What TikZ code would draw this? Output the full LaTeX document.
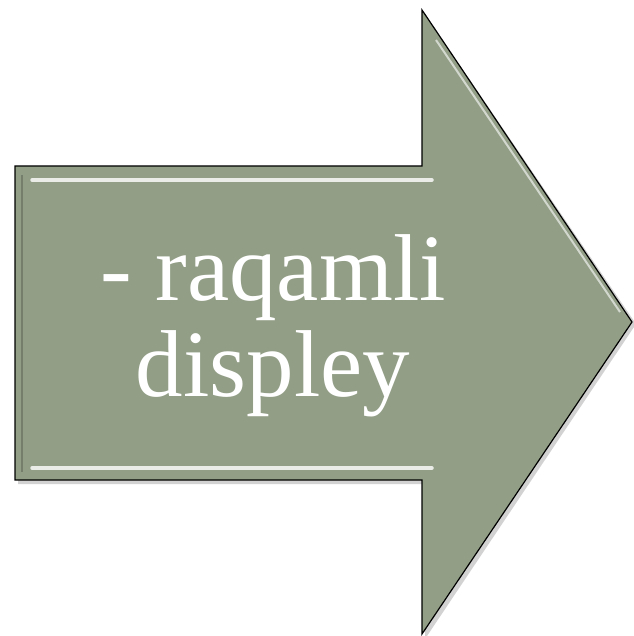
\documentclass[tikz,border=0pt]{standalone}
\usepackage{fontspec}
\setmainfont{Liberation Serif}
\begin{document}
\begin{tikzpicture}[x=1pt,y=-1pt,
  arrowfill/.style={fill=arrowgreen, draw=black, line width=1.2pt, line join=miter},
  shadowfill/.style={fill=black!35, opacity=0.5},
  bevel/.style={line width=3.5pt, draw=white!80!arrowgreen, line cap=round},
  labeltext/.style={text=white, font=\fontsize{95}{96}\selectfont, align=center, inner sep=0pt}]
\definecolor{arrowgreen}{HTML}{929E86}
\useasboundingbox (0,0) rectangle (633,636);
% shadow
\fill[shadowfill] (18,170) -- (425,170) -- (425,14) -- (636,324) -- (425,639) -- (425,484) -- (18,484) -- cycle;
% arrow
\path[arrowfill] (15,166) coordinate (bl) -- (422,166) coordinate (n1) -- (422,10) coordinate (h1)
  -- (632,322) coordinate (tip) -- (422,634) coordinate (h2) -- (422,480) coordinate (n2) -- (15,480) coordinate (b2) -- cycle;
% bevel highlights
\draw[bevel] (32,180) -- (432,180);
\draw[bevel] (32,468) -- (432,468);
\draw[line width=2pt, draw=white!60!arrowgreen] (436,40) -- (620,312);
\draw[line width=2pt, draw=black!20!arrowgreen] (22,175) -- (22,472);
% text
\node[labeltext] (lbl) at (273,326) {- raqamli\\displey};
\end{tikzpicture}
\end{document}
